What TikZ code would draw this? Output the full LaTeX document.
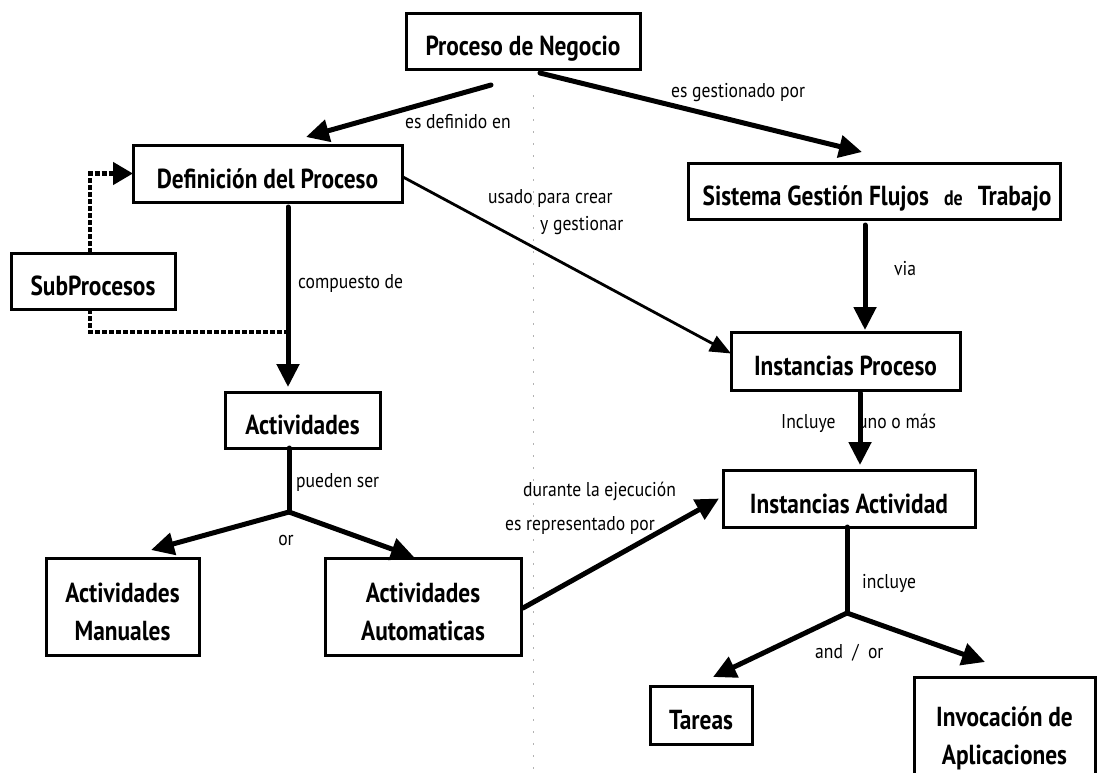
\documentclass[tikz,border=0pt]{standalone}
\usepackage{fontspec}
\setmainfont{PT Sans}
\newfontfamily\conceptfont{PT Sans}[FakeStretch=0.85]
\newfontfamily\phrasefont{PT Sans}[FakeStretch=0.88]
\usetikzlibrary{arrows.meta}

\begin{document}
\begin{tikzpicture}[x=1pt,y=-1pt,
  box/.style={draw=black, line width=3pt, fill=white, inner sep=0pt, outer sep=0pt,
    font=\conceptfont\fontsize{27.5}{38}\selectfont\bfseries, align=center},
  onebox/.style={box, text height=29pt, text depth=0pt},
  lbl/.style={font=\phrasefont\fontsize{20}{22}\selectfont, anchor=base west, inner sep=0pt},
  heavy/.style={line width=5pt, line cap=round, -{Triangle[length=23pt,width=22pt]}},
  heavyline/.style={line width=5pt, line cap=round},
  light/.style={line width=2.8pt, -{Triangle[length=21pt,width=17pt]}},
  sublink/.style={line width=4.5pt, dash pattern=on 5pt off 2pt},
]
\useasboundingbox (0,0) rectangle (1099,772);
\fill[white] (0,0) rectangle (1099,772);

% faint fold line of the sheet
\draw[black!30, line width=1pt, dash pattern=on 2pt off 10pt] (533,95) -- (533,772);

% concepts
\node[onebox, minimum width=234pt, minimum height=56pt] (pn) at (523,41) {Proceso de Negocio};
\node[onebox, minimum width=269pt, minimum height=57pt] (def) at (267.5,173.5) {Definición del Proceso};
\node[onebox, minimum width=164pt, minimum height=56pt] (sub) at (93,281) {SubProcesos};
\node[onebox, minimum width=372pt, minimum height=56pt] (sis) at (874,191)
  {\hspace{6pt}Sistema Gestión Flujos\hspace{15pt}{\fontsize{21}{22}\selectfont de}\hspace{15pt}Trabajo};
\node[onebox, minimum width=229pt, minimum height=58pt] (ip) at (845.5,361) {Instancias Proceso};
\node[onebox, minimum width=155pt, minimum height=56pt] (act) at (302.5,420) {Actividades};
\node[box, minimum width=153pt, minimum height=97pt] (man) at (122.5,606.5)
  {\rule{0pt}{30pt}Actividades\\Manuales};
\node[box, minimum width=196pt, minimum height=97pt] (aut) at (423,606.5)
  {\rule{0pt}{30pt}Actividades\\Automaticas};
\node[onebox, minimum width=252pt, minimum height=57pt] (ia) at (849,498.5) {Instancias Actividad};
\node[onebox, minimum width=102pt, minimum height=58pt] (tar) at (701,715) {Tareas};
\node[box, minimum width=181pt, minimum height=122pt] (inv) at (1004.5,738)
  {Invocación de\\Aplicaciones};

% link phrases
\node[lbl] (l1) at (405,128) {es definido en};
\node[lbl] (l2) at (671,97) {es gestionado por};
\node[lbl] (l3) at (488,203) {usado para crear};
\node[lbl] (l4) at (540,230) {y gestionar};
\node[lbl] (l5) at (298,288) {compuesto de};
\node[lbl] (l6) at (894,275) {via};
\node[lbl] (l7) at (781,428) {Incluye};
\node[lbl] (l8) at (858,428) {uno o más};
\node[lbl] (l9) at (296,487) {pueden ser};
\node[lbl, anchor=base] (l10) at (286,545) {or};
\node[lbl] (l11) at (523,496) {durante la ejecución};
\node[lbl] (l12) at (505,530) {es representado por};
\node[lbl] (l13) at (862,588) {incluye};
\node[lbl] (l14) at (815,658) {and \ / \ or};

% branch points
\coordinate (j1) at (289,512);
\coordinate (j2) at (847,613);
\coordinate (dj) at (286,332);

% connectors
\draw[heavy] ([shift={(-32,16)}]pn.south) -- ([shift={(38.5,-8)}]def.north);
\draw[heavy] ([shift={(17,4)}]pn.south) -- ([shift={(-12,-11)}]sis.north);
\draw[light] ([shift={(1,3.5)}]def.east) -- ([shift={(0,-7.5)}]ip.west);
\draw[heavy] ([shift={(-9,6)}]sis.south) -- ([shift={(19.5,-2)}]ip.north);
\draw[heavy] ([shift={(20.5,5)}]def.south) -- ([shift={(-14.5,-5)}]act.north);
\draw[sublink, -{Triangle[length=20pt,width=22pt]}] ([shift={(-3,0)}]sub.north) |- (def.west);
\draw[sublink] ([shift={(-3,0)}]sub.south) |- (dj);

\draw[heavyline] ([shift={(-13.5,0)}]act.south) -- (j1);
\draw[heavy] (j1) -- ([shift={(28.5,-8)}]man.north);
\draw[heavy] (j1) -- ([shift={(-9,-1)}]aut.north);
\draw[heavy] ([shift={(2,1.5)}]aut.east) -- ([shift={(-4,0)}]ia.west);
\draw[heavy] ([shift={(14.5,3)}]ip.south) -- ([shift={(11,-5)}]ia.north);
\draw[heavyline] ([shift={(-2,0)}]ia.south) -- (j2);
\draw[heavy] (j2) -- ([shift={(12,-9)}]tar.north);
\draw[heavy] (j2) -- ([shift={(-19.5,-15)}]inv.north);
\end{tikzpicture}
\end{document}
